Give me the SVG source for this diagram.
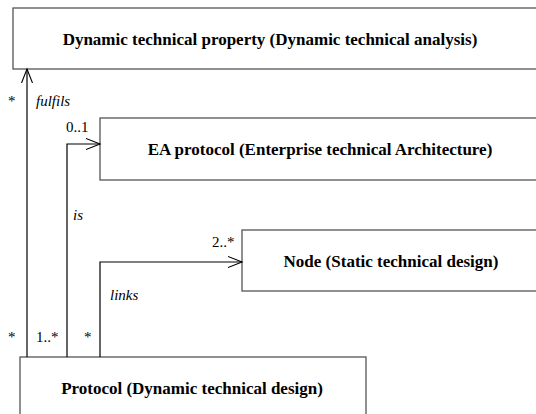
<svg xmlns="http://www.w3.org/2000/svg" width="536" height="414" viewBox="0 0 536 414">
<defs>
<marker id="arr" markerWidth="16" markerHeight="12" refX="14" refY="6" orient="auto" markerUnits="userSpaceOnUse">
<path d="M0,0.5 L14,6 L0,11.5" fill="none" stroke="#000" stroke-width="1.1"/>
</marker>
</defs>
<rect width="536" height="414" fill="#fff"/>
<g id="dyn-property">
<rect x="13" y="8" width="540" height="61" fill="#fff" stroke="#555" stroke-width="1.3"/>
<text x="270" y="45" font-family="Times New Roman" style="font-family:'Times New Roman','Liberation Serif',serif;font-weight:bold;font-size:17px" text-anchor="middle">Dynamic technical property (Dynamic technical analysis)</text>
</g>
<g id="ea-protocol">
<rect x="100" y="118" width="450" height="62" fill="#fff" stroke="#555" stroke-width="1.3"/>
<text x="320" y="155" font-family="Times New Roman" style="font-family:'Times New Roman','Liberation Serif',serif;font-weight:bold;font-size:17px" text-anchor="middle">EA protocol (Enterprise technical Architecture)</text>
</g>
<g id="node">
<rect x="242" y="230" width="310" height="61" fill="#fff" stroke="#555" stroke-width="1.3"/>
<text x="391" y="267" font-family="Times New Roman" style="font-family:'Times New Roman','Liberation Serif',serif;font-weight:bold;font-size:17px" text-anchor="middle">Node (Static technical design)</text>
</g>
<g id="protocol">
<rect x="20" y="357" width="346" height="70" fill="#fff" stroke="#555" stroke-width="1.3"/>
<text x="192" y="394" font-family="Times New Roman" style="font-family:'Times New Roman','Liberation Serif',serif;font-weight:bold;font-size:17px" text-anchor="middle">Protocol (Dynamic technical design)</text>
</g>
<g id="connectors">
<path d="M27,357 V69" fill="none" stroke="#000" stroke-width="1.2" marker-end="url(#arr)"/>
<path d="M67,357 V144 H100" fill="none" stroke="#000" stroke-width="1.2" marker-end="url(#arr)"/>
<path d="M100,357 V262 H242" fill="none" stroke="#000" stroke-width="1.2" marker-end="url(#arr)"/>
<text x="8" y="106" font-family="Times New Roman" style="font-family:'Times New Roman','Liberation Serif',serif;font-size:15px">*</text>
<text x="36" y="106" font-family="Times New Roman" style="font-family:'Times New Roman','Liberation Serif',serif;font-size:15px;font-style:italic">fulfils</text>
<text x="66" y="132" font-family="Times New Roman" style="font-family:'Times New Roman','Liberation Serif',serif;font-size:15px">0..1</text>
<text x="73" y="220" font-family="Times New Roman" style="font-family:'Times New Roman','Liberation Serif',serif;font-size:15px;font-style:italic">is</text>
<text x="212" y="247" font-family="Times New Roman" style="font-family:'Times New Roman','Liberation Serif',serif;font-size:15px">2..*</text>
<text x="110" y="300" font-family="Times New Roman" style="font-family:'Times New Roman','Liberation Serif',serif;font-size:15px;font-style:italic">links</text>
<text x="8" y="342" font-family="Times New Roman" style="font-family:'Times New Roman','Liberation Serif',serif;font-size:15px">*</text>
<text x="36" y="342" font-family="Times New Roman" style="font-family:'Times New Roman','Liberation Serif',serif;font-size:15px">1..*</text>
<text x="84" y="342" font-family="Times New Roman" style="font-family:'Times New Roman','Liberation Serif',serif;font-size:15px">*</text>
</g>
</svg>
